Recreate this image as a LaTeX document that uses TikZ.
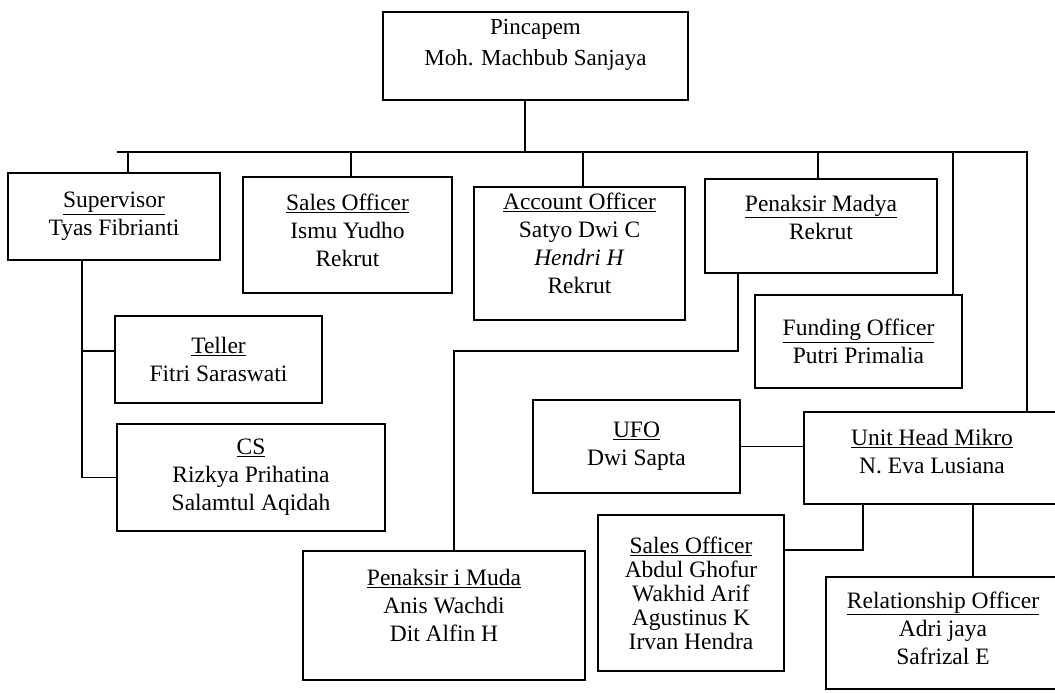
\documentclass[tikz,border=0pt]{standalone}
\usepackage{fontspec}
\setmainfont{Liberation Serif}
\usepackage{tikz}

\begin{document}
\begin{tikzpicture}[x=1pt,y=-1pt,box/.style={rectangle, draw, line width=2pt, align=center, inner sep=2pt, font=\fontsize{23.5}{28}\selectfont}]
    \tikzset{link/.style={draw, line width=1.8pt, line join=miter}}
    \tikzset{tight/.style={font=\fontsize{23.5}{24}\selectfont}}
    \useasboundingbox (0,0) rectangle (1055,693);

    % head of the branch
    \node[box, minimum width=305, minimum height=88, font=\fontsize{23}{31}\selectfont] (pin) at (535.5,56) {Pincapem\\Moh. Machbub Sanjaya\\[-4pt]};

    % first row
    \node[box, minimum width=212, minimum height=87] (spv) at (114,216.5) {\underline{Supervisor}\\Tyas Fibrianti};
    \node[box, minimum width=209, minimum height=116] (so) at (347.5,235) {\underline{Sales Officer}\\Ismu Yudho\\Rekrut\\[-18pt]};
    \node[box, minimum width=211, minimum height=133] (ao) at (579.5,253.5) {\underline{Account Officer}\\Satyo Dwi C\\\textit{Hendri H}\\Rekrut\\[-8pt]};
    \node[box, minimum width=232, minimum height=94] (pmad) at (821,226) {\underline{Penaksir Madya}\\Rekrut\\[-10pt]};
    \node[box, minimum width=207, minimum height=93] (fo) at (858.5,341.5) {\underline{Funding Officer}\\Putri Primalia};

    % under the supervisor
    \node[box, minimum width=207, minimum height=87] (tel) at (218.5,359.5) {\underline{Teller}\\Fitri Saraswati};
    \node[box, minimum width=268, minimum height=107] (cs) at (251,477.5) {\underline{CS}\\Rizkya Prihatina\\Salamtul Aqidah};

    % mikro unit
    \node[box, minimum width=207, minimum height=93] (ufo) at (636.5,446.5) {\underline{UFO}\\Dwi Sapta};
    \node[box, minimum width=256, minimum height=92] (uhm) at (932,458) {\underline{Unit Head Mikro}\\N. Eva Lusiana\\[-14pt]};
    \node[box, minimum width=282, minimum height=129] (pmuda) at (444,615.5) {\underline{Penaksir i Muda}\\Anis Wachdi\\Dit Alfin H\\[-8pt]};
    \node[box, tight, minimum width=186, minimum height=156] (som) at (691,593) {\underline{Sales Officer}\\Abdul Ghofur\\Wakhid Arif\\Agustinus K\\Irvan Hendra};
    \node[box, minimum width=234, minimum height=112] (ro) at (943,633) {\underline{Relationship Officer}\\Adri jaya\\Safrizal E\\[-18pt]};

    % main bus
    \coordinate (busL) at (117,152);
    \coordinate (busR) at (1027,152);
    \draw[link] ([xshift=-10.5]pin.south) -- ([xshift=-10.5]pin.south |- busL);
    \draw[link] (busL) -- (busR) -- (busR |- uhm.north);
    \draw[link] ([xshift=14]spv.north) -- ([xshift=14]spv.north |- busL);
    \draw[link] ([xshift=3.5]so.north) -- ([xshift=3.5]so.north |- busL);
    \draw[link] ([xshift=3.5]ao.north) -- ([xshift=3.5]ao.north |- busL);
    \draw[link] ([xshift=-3]pmad.north) -- ([xshift=-3]pmad.north |- busL);
    \draw[link] ([xshift=94.5]fo.north) -- ([xshift=94.5]fo.north |- busL);

    % supervisor to teller and cs
    \draw[link] ([xshift=-32]spv.south) |- (cs.west);
    \draw[link] ([yshift=8.5]tel.west) -- ++(-33,0);

    % penaksir madya to penaksir muda
    \draw[link] ([xshift=-83]pmad.south) -- ++(0,77) -| ([xshift=10]pmuda.north);

    % unit head mikro
    \draw[link] (ufo.east) -- (ufo.east -| uhm.west);
    \draw[link] ([xshift=-69]uhm.south) |- ([yshift=43]som.east);
    \draw[link] ([xshift=30]ro.north) -- ([xshift=30]ro.north |- uhm.south);
\end{tikzpicture}
\end{document}
